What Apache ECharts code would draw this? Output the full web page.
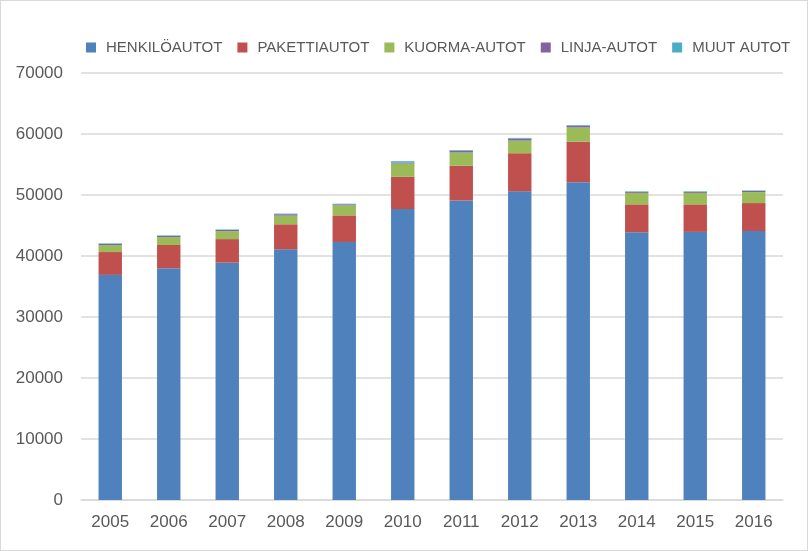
<!DOCTYPE html>
<html>
<head>
<meta charset="utf-8">
<script src="https://cdn.jsdelivr.net/npm/echarts@6/dist/echarts.min.js"></script>
<style>
html,body{margin:0;padding:0;background:#fff;}
#c{width:808px;height:551px;box-sizing:border-box;border:1px solid #d9d9d9;}
</style>
</head>
<body>
<div id="c"></div>
<script>
const years = ['2005','2006','2007','2008','2009','2010','2011','2012','2013','2014','2015','2016'];
const henkiloautot = [36900, 38000, 38900, 41100, 42300, 47700, 49100, 50600, 52100, 43900, 43950, 44100];
const pakettiautot = [3750, 3800, 3870, 4100, 4360, 5270, 5700, 6250, 6640, 4570, 4520, 4580];
const kuormaautot  = [1140, 1300, 1300, 1420, 1630, 2190, 2170, 2070, 2330, 1880, 1880, 1780];
const linjaautot   = [190, 190, 190, 230, 180, 150, 280, 330, 280, 160, 170, 200];
const muutautot    = [90, 90, 90, 100, 100, 230, 110, 110, 110, 90, 90, 90];
const yTicks = { min: 0, max: 70000, interval: 10000 };

const names = ['HENKILÖAUTOT', 'PAKETTIAUTOT', 'KUORMA-AUTOT', 'LINJA-AUTOT', 'MUUT AUTOT'];
const colors = ['#4F81BD', '#C0504D', '#9BBB59', '#8064A2', '#4BACC6'];
const data = [henkiloautot, pakettiautot, kuormaautot, linjaautot, muutautot];

const font = '"Liberation Sans", Arial, sans-serif';
const chart = echarts.init(document.getElementById('c'), null, {renderer: 'canvas'});
chart.setOption({
  animation: false,
  color: colors,
  textStyle: { fontFamily: font },
  legend: {
    left: 80, top: 34,
    itemWidth: 10, itemHeight: 10, itemGap: 15,
    icon: 'rect',
    textStyle: { color: '#595959', fontSize: 15, fontFamily: font, padding: [0,0,0,5] },
    data: names
  },
  grid: { left: 80, right: 24, top: 72, bottom: 50 },
  xAxis: {
    type: 'category',
    data: years,
    axisLine: { lineStyle: { color: '#d9d9d9', width: 1.5 } },
    axisTick: { show: false },
    axisLabel: { color: '#595959', fontSize: 17, margin: 14, fontFamily: font }
  },
  yAxis: {
    type: 'value',
    min: yTicks.min, max: yTicks.max, interval: yTicks.interval,
    axisLine: { show: false },
    axisTick: { show: false },
    splitLine: { lineStyle: { color: '#d9d9d9', width: 1.5 } },
    axisLabel: { color: '#595959', fontSize: 17, margin: 18, fontFamily: font,
      formatter: v => String(v) }
  },
  series: names.map((n, i) => ({
    name: n,
    type: 'bar',
    stack: 'total',
    barWidth: '40%',
    data: data[i],
    itemStyle: { color: colors[i] }
  }))
});
</script>
</body>
</html>
